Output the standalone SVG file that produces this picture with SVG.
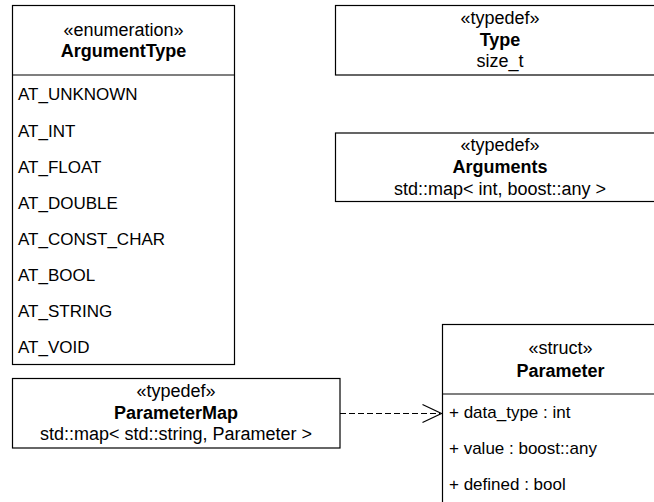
<svg xmlns="http://www.w3.org/2000/svg" width="654" height="502" viewBox="0 0 654 502">
  <style>
    .box { fill: #ffffff; stroke: #000000; stroke-width: 1.2; }
    .sep { stroke: #000000; stroke-width: 1.2; fill: none; }
    text { font-family: "Liberation Sans", Arial, Helvetica, sans-serif; font-size: 18px; fill: #000000; }
    .c { text-anchor: middle; }
    .b { font-weight: bold; }
    .item { font-size: 17px; }
    .dep { stroke: #000000; stroke-width: 1.2; fill: none; stroke-dasharray: 6 3; }
    .head { stroke: #000000; stroke-width: 1.2; fill: none; }
  </style>

  <!-- enumeration ArgumentType -->
  <g id="ArgumentType">
    <rect class="box" x="12.5" y="5.5" width="222" height="359"/>
    <line class="sep" x1="12.5" y1="75" x2="234.5" y2="75"/>
    <text class="c" x="123.5" y="36">«enumeration»</text>
    <text class="c b" x="123.5" y="57">ArgumentType</text>
    <text class="item" x="18" y="100">AT_UNKNOWN</text>
    <text class="item" x="18" y="136.5">AT_INT</text>
    <text class="item" x="18" y="172.5">AT_FLOAT</text>
    <text class="item" x="18" y="208.5">AT_DOUBLE</text>
    <text class="item" x="18" y="244.5">AT_CONST_CHAR</text>
    <text class="item" x="18" y="280.5">AT_BOOL</text>
    <text class="item" x="18" y="316.5">AT_STRING</text>
    <text class="item" x="18" y="353">AT_VOID</text>
  </g>

  <!-- typedef Type -->
  <g id="Type">
    <rect class="box" x="335.5" y="5.5" width="329" height="69.5"/>
    <text class="c" x="500" y="23.5">«typedef»</text>
    <text class="c b" x="500" y="45.5">Type</text>
    <text class="c" x="500" y="67">size_t</text>
  </g>

  <!-- typedef Arguments -->
  <g id="Arguments">
    <rect class="box" x="335.5" y="133" width="329" height="68.5"/>
    <text class="c" x="500" y="151">«typedef»</text>
    <text class="c b" x="500" y="173">Arguments</text>
    <text class="c" x="500" y="194.5">std::map&lt; int, boost::any &gt;</text>
  </g>

  <!-- typedef ParameterMap -->
  <g id="ParameterMap">
    <rect class="box" x="12.5" y="378.5" width="327.5" height="69.5"/>
    <text class="c" x="176" y="396.5">«typedef»</text>
    <text class="c b" x="176" y="418.5">ParameterMap</text>
    <text class="c" x="176" y="440">std::map&lt; std::string, Parameter &gt;</text>
  </g>

  <!-- struct Parameter -->
  <g id="Parameter">
    <rect class="box" x="442.5" y="324.5" width="236" height="200"/>
    <line class="sep" x1="442.5" y1="394" x2="678.5" y2="394"/>
    <text class="c" x="560.5" y="354">«struct»</text>
    <text class="c b" x="560.5" y="376.5">Parameter</text>
    <text class="item" x="449" y="418">+ data_type : int</text>
    <text class="item" x="449" y="454">+ value : boost::any</text>
    <text class="item" x="449" y="490">+ defined : bool</text>
  </g>

  <!-- dependency ParameterMap -> Parameter -->
  <g id="connectors">
    <line class="dep" x1="340" y1="413.5" x2="440" y2="413.5"/>
    <polyline class="head" points="422.5,404.5 441.5,413.5 422.5,422.5"/>
  </g>
</svg>
